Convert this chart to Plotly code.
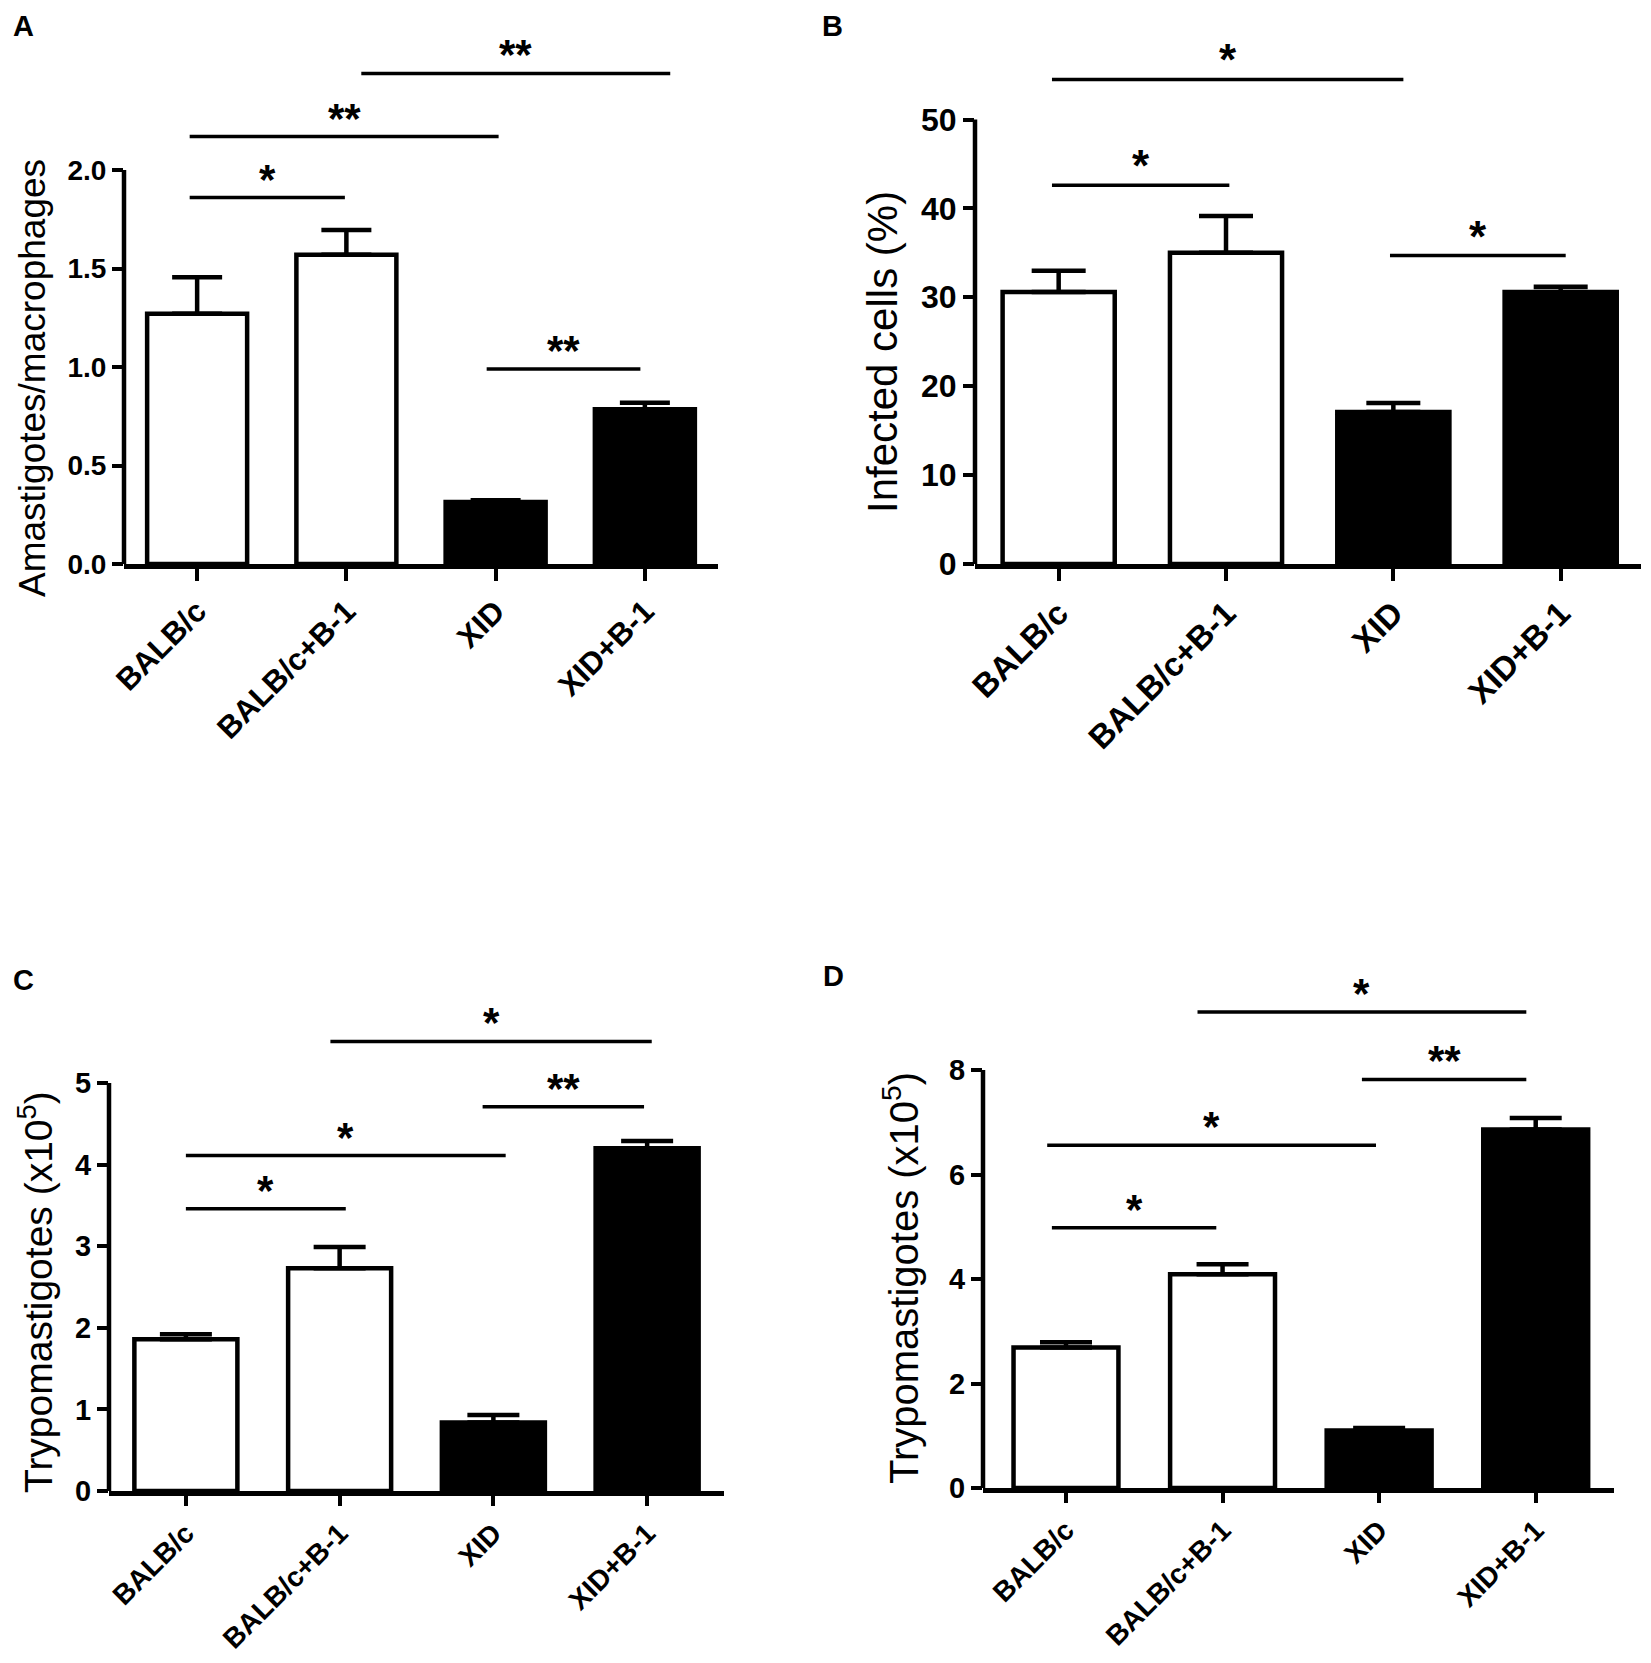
import plotly.graph_objects as go

# ---------------- data ----------------
categories = ["BALB/c", "BALB/c+B-1", "XID", "XID+B-1"]
bar_fill = ["white", "white", "black", "black"]

A_mean = [1.27, 1.57, 0.315, 0.785]
A_err = [0.185, 0.125, 0.008, 0.033]
A_ticks = [0.0, 0.5, 1.0, 1.5, 2.0]
A_sig_x0 = [-0.05, -0.05, 1.10, 1.94]
A_sig_x1 = [0.99, 2.02, 3.17, 2.97]
A_sig_y = [1.86, 2.17, 2.49, 0.99]
A_sig_lab = ["*", "**", "**", "**"]

B_mean = [30.6, 35.0, 17.1, 30.6]
B_err = [2.4, 4.15, 1.0, 0.6]
B_ticks = [0, 10, 20, 30, 40, 50]
B_sig_x0 = [-0.04, -0.04, 1.98]
B_sig_x1 = [1.02, 2.06, 3.03]
B_sig_y = [42.6, 54.5, 34.7]
B_sig_lab = ["*", "*", "*"]

C_mean = [1.86, 2.73, 0.84, 4.20]
C_err = [0.06, 0.26, 0.09, 0.09]
C_ticks = [0, 1, 2, 3, 4, 5]
C_sig_x0 = [0.0, 0.0, 1.93, 0.94]
C_sig_x1 = [1.04, 2.08, 2.98, 3.03]
C_sig_y = [3.46, 4.11, 4.71, 5.51]
C_sig_lab = ["*", "*", "**", "*"]

D_mean = [2.69, 4.09, 1.10, 6.86]
D_err = [0.10, 0.19, 0.05, 0.22]
D_ticks = [0, 2, 4, 6, 8]
D_sig_x0 = [-0.09, -0.12, 1.89, 0.84]
D_sig_x1 = [0.96, 1.98, 2.94, 2.94]
D_sig_y = [4.98, 6.56, 7.82, 9.11]
D_sig_lab = ["*", "*", "**", "*"]

titles = ["Amastigotes/macrophages", "Infected cells (%)",
          "Trypomastigotes (x10<sup>5</sup>)", "Trypomastigotes (x10<sup>5</sup>)"]
letters = ["A", "B", "C", "D"]

# ---------------- layout geometry ----------------
# page is 1651x1663; the HTML body has an 8px margin, so the figure is
# sized to fit inside it and page-pixel positions are shifted by OFF.
OFF = 8
W, H = 1634, 1646
FONT = "Liberation Sans"


def px_x(px):
    return min(1.0, max(0.0, (px - OFF) / W))


def px_y(py):
    return min(1.0, max(0.0, 1 - (py - OFF) / H))


panels = [
    dict(mean=A_mean, err=A_err, ticks=A_ticks, fmt=".1f",
         sx0=A_sig_x0, sx1=A_sig_x1, sy=A_sig_y, slab=A_sig_lab,
         xpx=(124, 718), xr=(-0.49, 3.49), y0px=564, ppu=197.0, ytop=2.62,
         tickfs=28, xtickfs=31, xticklen=12, titlefs=37, title_xy=(33, 378),
         letter_xy=(24, 8), capw=25, starfs=42),
    dict(mean=B_mean, err=B_err, ticks=B_ticks, fmt="d",
         sx0=B_sig_x0, sx1=B_sig_x1, sy=B_sig_y, slab=B_sig_lab,
         xpx=(975, 1641), xr=(-0.5, 3.48), y0px=564, ppu=8.89, ytop=57.5,
         tickfs=32, xtickfs=33, xticklen=12, titlefs=42, title_xy=(882, 352),
         letter_xy=(832, 8), capw=27, starfs=44),
    dict(mean=C_mean, err=C_err, ticks=C_ticks, fmt="d",
         sx0=C_sig_x0, sx1=C_sig_x1, sy=C_sig_y, slab=C_sig_lab,
         xpx=(109, 724), xr=(-0.5, 3.5), y0px=1491, ppu=81.6, ytop=5.75,
         tickfs=29, xtickfs=28, xticklen=10, titlefs=39, title_xy=(35, 1292),
         letter_xy=(24, 962), capw=26, starfs=42),
    dict(mean=D_mean, err=D_err, ticks=D_ticks, fmt="d",
         sx0=D_sig_x0, sx1=D_sig_x1, sy=D_sig_y, slab=D_sig_lab,
         xpx=(983, 1614), xr=(-0.53, 3.5), y0px=1488, ppu=52.25, ytop=9.6,
         tickfs=29, xtickfs=28, xticklen=10, titlefs=40, title_xy=(901, 1278),
         letter_xy=(833, 958), capw=26, starfs=42),
]

fig = go.Figure()
shapes = []
annotations = []

for i, p in enumerate(panels):
    n = "" if i == 0 else str(i + 1)
    xa, ya = "x" + n, "y" + n
    xdom = [px_x(p["xpx"][0]), px_x(p["xpx"][1])]
    top_px = p["y0px"] - p["ytop"] * p["ppu"]
    ydom = [px_y(p["y0px"]), px_y(top_px)]

    fig.add_trace(go.Bar(
        x=categories, y=p["mean"], xaxis=xa, yaxis=ya, width=0.67,
        marker=dict(color=bar_fill, line=dict(color="black", width=4.5)),
        error_y=dict(type="data", symmetric=False, array=p["err"],
                     arrayminus=[0] * len(p["err"]), color="black",
                     thickness=4.5, width=p["capw"]),
        showlegend=False, hoverinfo="skip",
    ))

    xkey = "xaxis" + n
    ykey = "yaxis" + n
    fig.update_layout(**{
        xkey: dict(domain=xdom, anchor=ya, range=list(p["xr"]), type="category",
                   showline=True, linecolor="black", linewidth=4.5,
                   ticks="outside", ticklen=p["xticklen"], tickwidth=3.5, tickcolor="black",
                   tickangle=-45, showgrid=False, zeroline=False, automargin=False,
                   tickfont=dict(family=FONT, size=p["xtickfs"], color="black", weight="bold")),
        ykey: dict(domain=ydom, anchor=xa, range=[0, p["ytop"]],
                   showline=False, showgrid=False, zeroline=False, automargin=False,
                   tickmode="array", tickvals=p["ticks"], tickformat=p["fmt"],
                   ticks="outside", ticklen=11, tickwidth=4, tickcolor="black",
                   tickfont=dict(family=FONT, size=p["tickfs"], color="black", weight="bold")),
    })

    # y axis line up to last tick
    shapes.append(dict(type="line", xref=xa + " domain", yref=ya,
                       x0=0, x1=0, y0=p["ticks"][0], y1=p["ticks"][-1],
                       line=dict(color="black", width=4.5)))

    # significance brackets
    for x0, x1, yv, lab in zip(p["sx0"], p["sx1"], p["sy"], p["slab"]):
        shapes.append(dict(type="line", xref=xa, yref=ya, x0=x0, x1=x1, y0=yv, y1=yv,
                           line=dict(color="black", width=3.5)))
        annotations.append(dict(x=(x0 + x1) / 2, y=yv, xref=xa, yref=ya,
                                text="<b>%s</b>" % lab, showarrow=False,
                                xanchor="center", yanchor="bottom", yshift=-7,
                                font=dict(family=FONT, size=p["starfs"], color="black")))

    # axis title
    annotations.append(dict(x=px_x(p["title_xy"][0]), y=px_y(p["title_xy"][1]),
                            xref="paper", yref="paper", text=titles[i], textangle=-90,
                            showarrow=False, xanchor="center", yanchor="middle",
                            font=dict(family=FONT, size=p["titlefs"], color="black")))
    # panel letter (top-anchored)
    annotations.append(dict(x=px_x(p["letter_xy"][0]), y=px_y(p["letter_xy"][1]),
                            xref="paper", yref="paper", text="<b>%s</b>" % letters[i],
                            showarrow=False, xanchor="center", yanchor="top",
                            font=dict(family=FONT, size=29, color="black")))

fig.update_layout(width=W, height=H, margin=dict(l=0, r=0, t=0, b=0),
                  paper_bgcolor="white", plot_bgcolor="white",
                  shapes=shapes, annotations=annotations, bargap=0.33)

fig.write_html("out.html")
